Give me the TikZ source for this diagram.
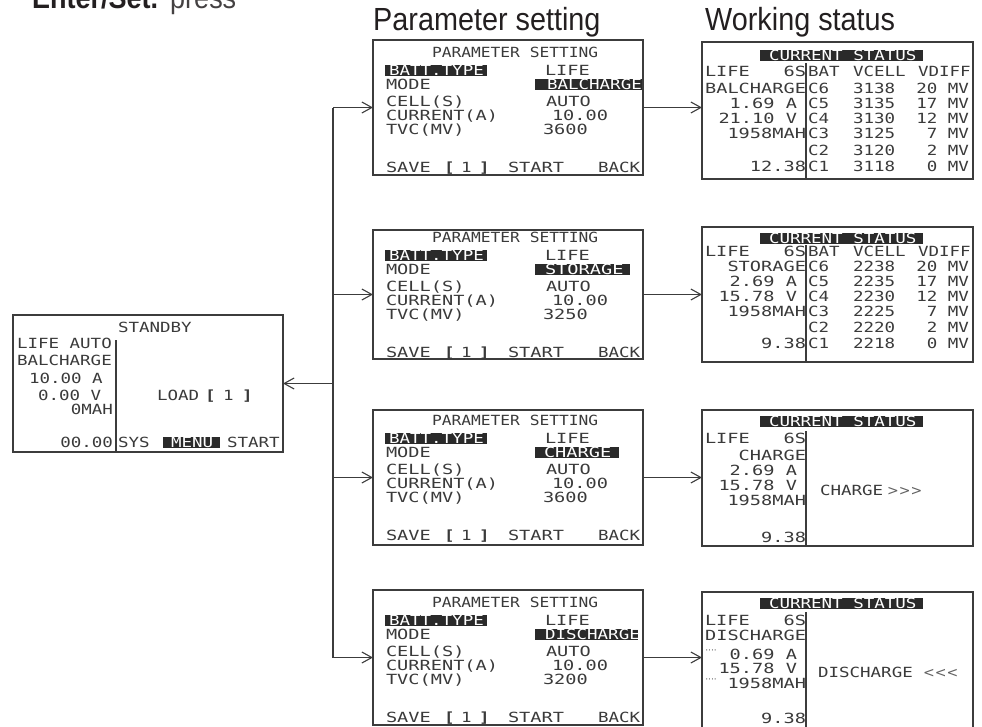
\documentclass[tikz,border=0pt]{standalone}
\usepackage{fontspec}
\usetikzlibrary{arrows.meta}
\newfontfamily\lcdfont[FakeStretch=1.25]{DejaVu Sans Mono}
\newfontfamily\lcdwfont[FakeStretch=1.33]{DejaVu Sans Mono}
\newfontfamily\lcdnfont[FakeStretch=1.16]{DejaVu Sans Mono}
\newfontfamily\ttlfont[FakeStretch=0.9]{Liberation Sans}
\newfontfamily\symfont{DejaVu Sans}
\definecolor{ink}{HTML}{3A3A3A}
\definecolor{linec}{HTML}{3C3C3C}
\definecolor{hlc}{HTML}{2A2A2A}
\definecolor{ttlc}{HTML}{231F20}
\newcounter{tn}
\newcommand\tx[4][]{\stepcounter{tn}\node[lcd,anchor=base west,#1] (t\arabic{tn}) at (#2,{#3+5}) {#4};}
\newcommand\txr[4][]{\stepcounter{tn}\node[lcd,anchor=base east,#1] (t\arabic{tn}) at (#2,{#3+5}) {#4};}
\newcommand\hlbar[3]{\fill[hlc] (#1,{#3-5.5}) rectangle (#2,{#3+5.5});}
% parameter box texts: #1 text origin, #2 mode word, #3 mode x, #4 highlight right, #5 TVC, #6 mode font style
\newcommand\parambox[6]{%
  \tx[lcdn]{432}{#1+12}{PARAMETER SETTING}
  \hlbar{385}{487}{#1+30}
  \tx[inv]{389}{#1+30}{BATT.TYPE}
  \tx[lcdw]{545}{#1+30}{LIFE}
  \tx[lcdw]{386}{#1+44.5}{MODE}
  \begin{scope}
    \clip (535,{#1+39}) rectangle (#4,{#1+50});
    \fill[hlc] (535,{#1+39}) rectangle (#4,{#1+50});
    \tx[#6,inv]{#3}{#1+44.5}{#2}
  \end{scope}
  \tx[lcdw]{386}{#1+61.5}{CELL(S)}
  \tx[lcdw]{546}{#1+61.5}{AUTO}
  \tx[lcdw]{386}{#1+75.5}{CURRENT(A)}
  \tx[lcdw]{552}{#1+75.5}{10.00}
  \tx[lcdw]{386}{#1+89}{TVC(MV)}
  \tx[lcdw]{543}{#1+89}{#5}
  \tx[lcdw]{386}{#1+127}{SAVE}
  \tx{444}{#1+127}{\bfseries[}
  \tx{461}{#1+127}{1}
  \tx{479}{#1+127}{\bfseries]}
  \tx[lcdw]{508}{#1+127}{START}
  \tx{598}{#1+127}{BACK}
}
\newcommand\srow[4]{\tx{808}{#1}{#2}\tx{853}{#1}{#3}\txr{969}{#1}{#4}}
\newcommand\shead[1]{\fill[hlc] (760,{#1-5.5}) rectangle (923,{#1+5.5});\tx[inv]{769}{#1}{CURRENT~STATUS}}

\begin{document}
\begin{tikzpicture}[x=1pt,y=-1pt,
  lcd/.style={font=\lcdfont\fontsize{14}{14}\selectfont, text=ink, inner sep=0pt, outer sep=0pt},
  lcdw/.style={font=\lcdwfont\fontsize{14}{14}\selectfont},
  lcdn/.style={font=\lcdnfont\fontsize{14}{14}\selectfont},
  inv/.style={text=white},
  box/.style={draw=linec, line width=1.2pt, inner sep=0pt, outer sep=0pt, anchor=north west},
  wire/.style={draw=linec, line width=1.1pt},
  divider/.style={draw=linec, line width=1.1pt},
  conn/.style={wire, -{Straight Barb[length=10pt,width=11pt,line width=1.1pt]}},
  title/.style={font=\ttlfont\fontsize{32}{32}\selectfont, text=ttlc, inner sep=0pt, anchor=base west},
  arrowsym/.style={font=\symfont\fontsize{14}{14}\selectfont, text=ink!80, inner sep=0pt, anchor=base west},
  dots/.style={font=\symfont\fontsize{9}{9}\selectfont, text=ink!85, inner sep=0pt}
]
\useasboundingbox (0,0) rectangle (982,726);

% headings
\node[font=\ttlfont\fontsize{30}{30}\selectfont, text=ttlc, inner sep=0pt, anchor=base west] (enter) at (32,8) {\textbf{Enter/Set.}\hspace{12pt}{\color{ttlc!85}press}};
\node[title] (ttlA) at (373,30) {Parameter setting};
\node[title] (ttlB) at (705,30) {Working status};

% boxes
\node[box, minimum width=270, minimum height=137] (sb) at (13,315) {};
\node[box, minimum width=270, minimum height=135] (p1) at (373,40) {};
\node[box, minimum width=270, minimum height=129] (p2) at (373,230) {};
\node[box, minimum width=270, minimum height=135] (p3) at (373,410) {};
\node[box, minimum width=270, minimum height=135] (p4) at (373,590) {};
\node[box, minimum width=271, minimum height=137] (s1) at (702,42) {};
\node[box, minimum width=271, minimum height=135] (s2) at (702,227) {};
\node[box, minimum width=271, minimum height=136] (s3) at (702,410) {};
\node[box, minimum width=271, minimum height=136] (s4) at (702,592) {};

% connectors
\coordinate (tr1) at ([xshift=-40pt]p1.west);
\coordinate (tr2) at ([xshift=-40pt]p2.west);
\coordinate (tr3) at ([xshift=-40pt]p3.west);
\coordinate (tr4) at ([xshift=-40pt]p4.west);
\coordinate (trs) at (tr1 |- sb.east);
\draw[wire] (tr1) -- (tr4);
\draw[conn] (trs) -- (sb.east);
\foreach \i in {1,...,4}{
  \draw[conn] (tr\i) -- (p\i.west);
  \draw[conn] (p\i.east) -- (p\i.east -| s\i.west);
}

% standby screen
\tx{118}{327}{STANDBY}
\draw[divider] (116,340) -- (116,452);
\tx{17}{343}{LIFE~AUTO}
\tx{17}{360}{BALCHARGE}
\tx{29}{378}{10.00~A}
\tx{38}{395}{0.00~V}
\txr{113}{409}{0MAH}
\txr{113}{442}{00.00}
\tx{118}{442}{SYS}
\hlbar{163}{220}{442}
\tx[inv]{171}{442}{MENU}
\tx{227}{442}{START}
\tx{157}{395}{LOAD}
\tx{205}{395}{\bfseries[}
\tx{223}{395}{1}
\tx{242}{395}{\bfseries]}

% parameter screens
\parambox{40}{BALCHARGE}{547}{642}{3600}{lcd}
\parambox{225}{STORAGE}{545}{630}{3250}{lcdw}
\parambox{408}{CHARGE}{544}{619}{3600}{lcdw}
\parambox{590}{DISCHARGE}{545}{638}{3200}{lcd}

% status 1
\shead{55}
\draw[divider] (806,63) -- (806,179);
\tx[lcdw]{705}{71}{LIFE}
\txr[lcdw]{806}{71}{6S}
\tx{808}{71}{BAT}\tx{853}{71}{VCELL}\tx{918}{71}{VDIFF}
\txr[lcdw]{806}{88}{BALCHARGE}
\txr[lcdw]{797}{103}{1.69~A}
\txr[lcdw]{797}{118}{21.10~V}
\txr[lcdw]{806}{133}{1958MAH}
\txr[lcdw]{806}{166}{12.38}
\srow{88}{C6}{3138}{20~MV}
\srow{103}{C5}{3135}{17~MV}
\srow{118}{C4}{3130}{12~MV}
\srow{133}{C3}{3125}{7~MV}
\srow{150}{C2}{3120}{2~MV}
\srow{166}{C1}{3118}{0~MV}

% status 2
\shead{238}
\draw[divider] (806,245) -- (806,362);
\tx[lcdw]{705}{251.7}{LIFE}
\txr[lcdw]{806}{251.7}{6S}
\tx{808}{251.7}{BAT}\tx{853}{251.7}{VCELL}\tx{918}{251.7}{VDIFF}
\txr[lcdw]{806}{266.7}{STORAGE}
\txr[lcdw]{797}{281.7}{2.69~A}
\txr[lcdw]{797}{296.7}{15.78~V}
\txr[lcdw]{806}{311.7}{1958MAH}
\txr[lcdw]{806}{343.3}{9.38}
\srow{266.7}{C6}{2238}{20~MV}
\srow{281.7}{C5}{2235}{17~MV}
\srow{296.7}{C4}{2230}{12~MV}
\srow{311.7}{C3}{2225}{7~MV}
\srow{327.7}{C2}{2220}{2~MV}
\srow{343.3}{C1}{2218}{0~MV}

% status 3
\shead{421.7}
\draw[divider] (806,431) -- (806,546);
\tx[lcdw]{705}{438.3}{LIFE}
\txr[lcdw]{806}{438.3}{6S}
\txr[lcdw]{806}{455}{CHARGE}
\txr[lcdw]{797}{470}{2.69~A}
\txr[lcdw]{797}{485}{15.78~V}
\txr[lcdw]{806}{500}{1958MAH}
\txr[lcdw]{806}{537}{9.38}
\tx{820}{490}{CHARGE}
\node[arrowsym] (chg) at (887,495.5) {>{}>{}>};

% status 4
\shead{603.3}
\draw[divider] (806,612) -- (806,728);
\tx[lcdw]{705}{620}{LIFE}
\txr[lcdw]{806}{620}{6S}
\txr[lcdw]{806}{635.7}{DISCHARGE}
\node[dots] (dt1) at (711,652) {····};
\txr[lcdw]{797}{654}{0.69~A}
\txr[lcdw]{797}{668}{15.78~V}
\node[dots] (dt2) at (711,681) {····};
\txr[lcdw]{806}{683}{1958MAH}
\txr[lcdw]{806}{718}{9.38}
\tx{818}{672}{DISCHARGE}
\node[arrowsym] (dis) at (923,677.5) {<{}<{}<};
\end{tikzpicture}
\end{document}
